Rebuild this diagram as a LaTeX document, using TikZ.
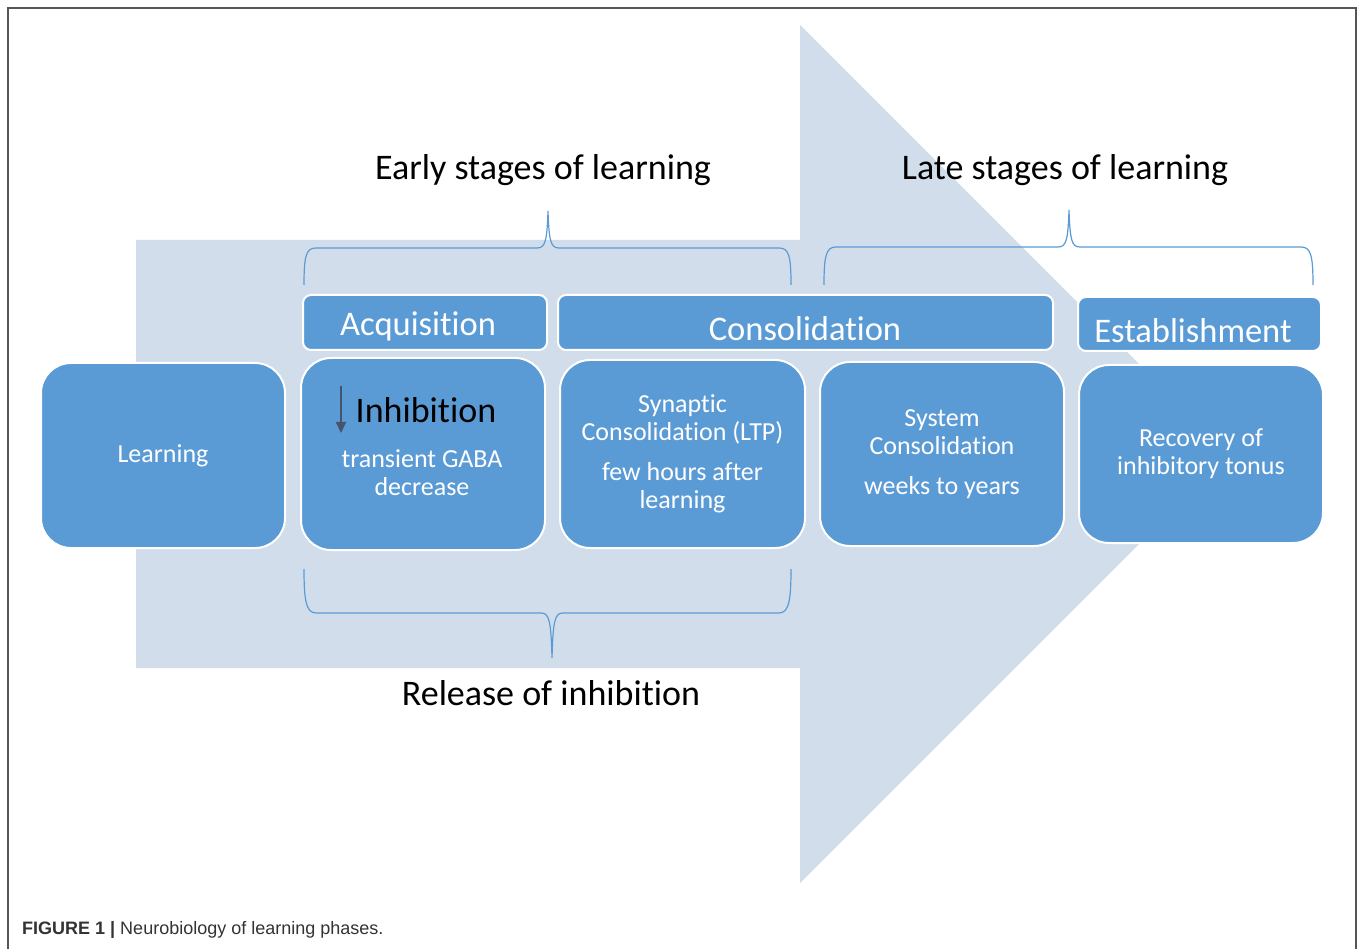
\documentclass[tikz,border=0pt]{standalone}
\usepackage{fontspec}
\usetikzlibrary{arrows.meta}
\setmainfont[Ligatures={NoCommon}]{Carlito}
\newfontfamily\capfont{Liberation Sans}
\definecolor{arrowfill}{HTML}{D2DDEB}
\definecolor{boxblue}{HTML}{5B9BD5}
\definecolor{bracecol}{HTML}{5B9BD5}
\definecolor{darkarrow}{HTML}{44546A}
\definecolor{framecol}{HTML}{555555}
\definecolor{capcol}{HTML}{333333}
\begin{document}
\begin{tikzpicture}[x=1pt,y=-1pt,
  bigbox/.style={draw=white, line width=2pt, fill=boxblue, rounded corners=30pt, text=white, align=center, inner sep=0pt},
  headbox/.style={draw=white, line width=2pt, fill=boxblue, rounded corners=8pt, text=white, inner sep=0pt, font=\fontsize{34.5}{40}\selectfont},
  bodytext/.style={font=\fontsize{26}{28}\selectfont},
  bigtitle/.style={font=\fontsize{36}{42}\selectfont, text=black, inner sep=0pt},
  bracestyle/.style={draw=bracecol, line width=1.2pt}
]
\useasboundingbox (0,0) rectangle (1358,949);
\fill[white] (0,0) rectangle (1358,949);
% frame
\draw[framecol, line width=1.8pt] (8,949) -- (8,8) -- (1356,8) -- (1356,949);
% big arrow
\fill[arrowfill] (136,240) -- (800,240) -- (800,25) -- (1229,454) -- (800,883) -- (800,668) -- (136,668) -- cycle;
% titles
\node[bigtitle] (early) at (543,170) {Early stages of learning};
\node[bigtitle] (late) at (1065,170) {Late stages of learning};
\node[bigtitle] (release) at (551,693) {Release of inhibition};
% braces
\coordinate (b1l) at (304,285); \coordinate (b1t) at (548,211); \coordinate (b1r) at (791,285);
\draw[bracestyle] (b1l) .. controls (304,256) and (306,248) .. (316,248) -- (537,248) .. controls (545,248) and (547,242) .. (b1t)
  .. controls (549,242) and (551,248) .. (559,248) -- (779,248) .. controls (789,248) and (791,256) .. (b1r);
\coordinate (b2l) at (824,285); \coordinate (b2t) at (1069,210); \coordinate (b2r) at (1313,285);
\draw[bracestyle] (b2l) .. controls (824,256) and (826,247) .. (836,247) -- (1058,247) .. controls (1066,247) and (1068,241) .. (b2t)
  .. controls (1070,241) and (1072,247) .. (1080,247) -- (1301,247) .. controls (1311,247) and (1313,256) .. (b2r);
\coordinate (b3l) at (304,569); \coordinate (b3t) at (552,658); \coordinate (b3r) at (791,569);
\draw[bracestyle] (b3l) .. controls (304,600) and (306,613) .. (316,613) -- (541,613) .. controls (549,613) and (551,620) .. (b3t)
  .. controls (553,620) and (555,613) .. (563,613) -- (779,613) .. controls (789,613) and (791,600) .. (b3r);
% header boxes
\node[headbox, minimum width=244pt, minimum height=55pt] (acq) at (425,322.5) {};
\node[headbox, minimum width=495pt, minimum height=55pt] (cons) at (805.5,322.5) {};
\node[headbox, minimum width=243pt, minimum height=54pt] (est) at (1199.5,324) {};
\node[headbox, draw=none, fill=none] (acqt) at (418,326) {Acquisition};
\node[headbox, draw=none, fill=none] (const) at (805,329) {Consolidation};
\node[headbox, draw=none, fill=none] (estt) at (1193,331) {Establishment};
% main boxes
\node[bigbox, bodytext, minimum width=244pt, minimum height=185pt] (learn) at (163,455.5) {Learning};
\node[bigbox, minimum width=244pt, minimum height=192pt] (inhbox) at (423,454) {};
\node[bigbox, bodytext, minimum width=245pt, minimum height=188pt] (syn) at (682.5,454) {Synaptic\\Consolidation (LTP)\\[12pt]few hours after\\learning};
\node[bigbox, bodytext, minimum width=244pt, minimum height=184pt] (sys) at (942,454) {System\\Consolidation\\[12pt]weeks to years};
\node[bigbox, bodytext, minimum width=244pt, minimum height=178pt] (rec) at (1201,454) {Recovery of\\inhibitory tonus};
% inhibition content
\node[font=\fontsize{36}{42}\selectfont, text=black, inner sep=0pt] (inh) at (426,410) {Inhibition};
\node[bodytext, text=white, align=center, inner sep=0pt] (gaba) at (422,473) {transient GABA\\decrease};
\coordinate (da1) at (341,386); \coordinate (da2) at (341,433);
\draw[darkarrow, line width=2pt, -{Triangle[length=11pt,width=10pt]}] (da1) -- (da2);
% caption
\node[anchor=west, inner sep=0pt, text=capcol, font=\capfont\fontsize{18}{21}\selectfont] (cap) at (22,930) {\textbf{FIGURE 1 |} Neurobiology of learning phases.};
\end{tikzpicture}
\end{document}
